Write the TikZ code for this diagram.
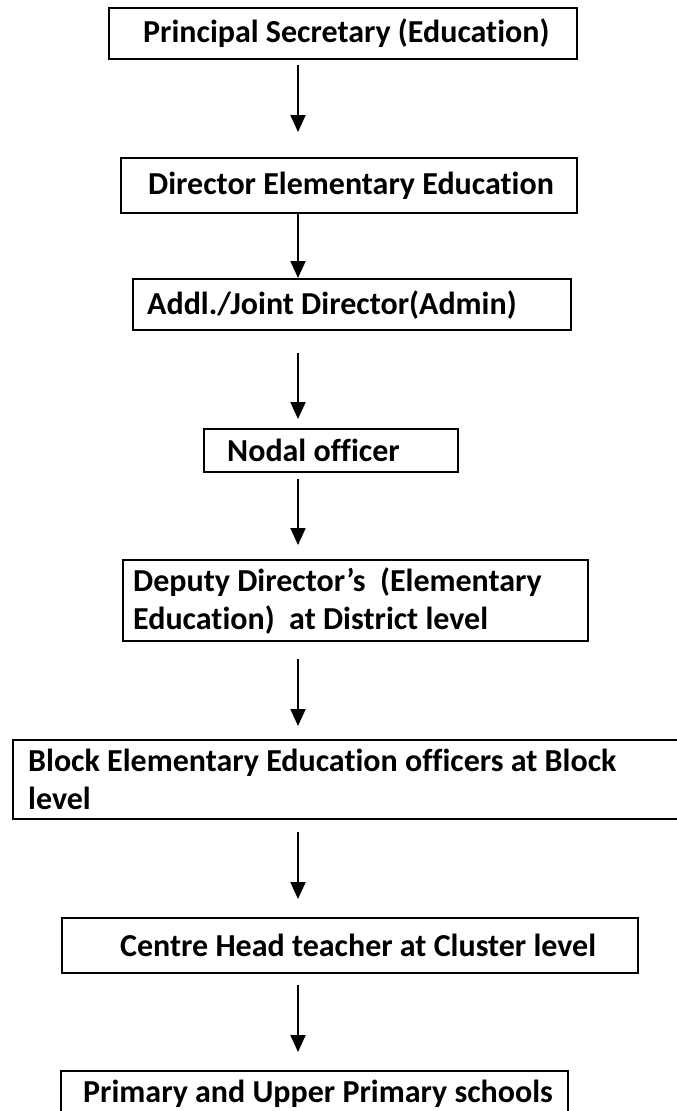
\documentclass[tikz,border=0pt]{standalone}
\usepackage{fontspec}
\setmainfont{Carlito}[Ligatures=NoCommon]
\usetikzlibrary{arrows.meta}
\usetikzlibrary{positioning}

\tikzset{
  box/.style={draw, line width=2.2pt, anchor=north west, inner sep=0pt},
  txt/.style={inner sep=0pt, align=left, font=\fontsize{32}{38}\selectfont\bfseries},
  arr/.style={-{Triangle[width=15pt,length=17pt]}, line width=2pt}
}

\begin{document}
\begin{tikzpicture}[x=1pt,y=-1pt]
	\useasboundingbox (0,0) rectangle (677,1111);
	% boxes
	\node[box, minimum width=468pt, minimum height=51pt] (b1) at (108,7) {};
	\node[box, minimum width=456pt, minimum height=55pt] (b2) at (120,157) {};
	\node[box, minimum width=438pt, minimum height=51pt] (b3) at (132,278) {};
	\node[box, minimum width=254pt, minimum height=43pt] (b4) at (203,428) {};
	\node[box, minimum width=465pt, minimum height=81pt] (b5) at (122,559) {};
	\node[box, minimum width=690pt, minimum height=79pt] (b6) at (12,739) {};
	\node[box, minimum width=576pt, minimum height=55pt] (b7) at (61,917) {};
	\node[box, minimum width=507pt, minimum height=55pt] (b8) at (60,1070) {};
	% texts
	\node[txt, right=35pt of b1.west] (t1) {Principal Secretary (Education)};
	\node[txt, right=28pt of b2.west] (t2) {Director Elementary Education};
	\node[txt, right=15pt of b3.west] (t3) {Addl./Joint Director(Admin)};
	\node[txt, right=24pt of b4.west] (t4) {Nodal officer};
	\node[txt, right=11pt of b5.west] (t5) {Deputy Director’s\ \ (Elementary\\Education)\ \ at District level};
	\node[txt, right=16pt of b6.west] (t6) {Block Elementary Education officers at Block\\level};
	\node[txt, right=59pt of b7.west] (t7) {Centre Head teacher at Cluster level};
	\node[txt, right=23pt of b8.west, yshift=5pt] (t8) {Primary and Upper Primary schools};
	% arrows
	\coordinate (ax) at (298,0);
	\foreach \from/\to/\s/\e in {b1/b2/5/25, b2/b3/-2/0, b3/b4/22/9, b4/b5/6/14, b5/b6/17/13, b6/b7/12/18, b7/b8/11/18} {
		\draw[arr, shorten <=\s pt, shorten >=\e pt] (\from.south -| ax) -- (\to.north -| ax);
	}
\end{tikzpicture}
\end{document}
